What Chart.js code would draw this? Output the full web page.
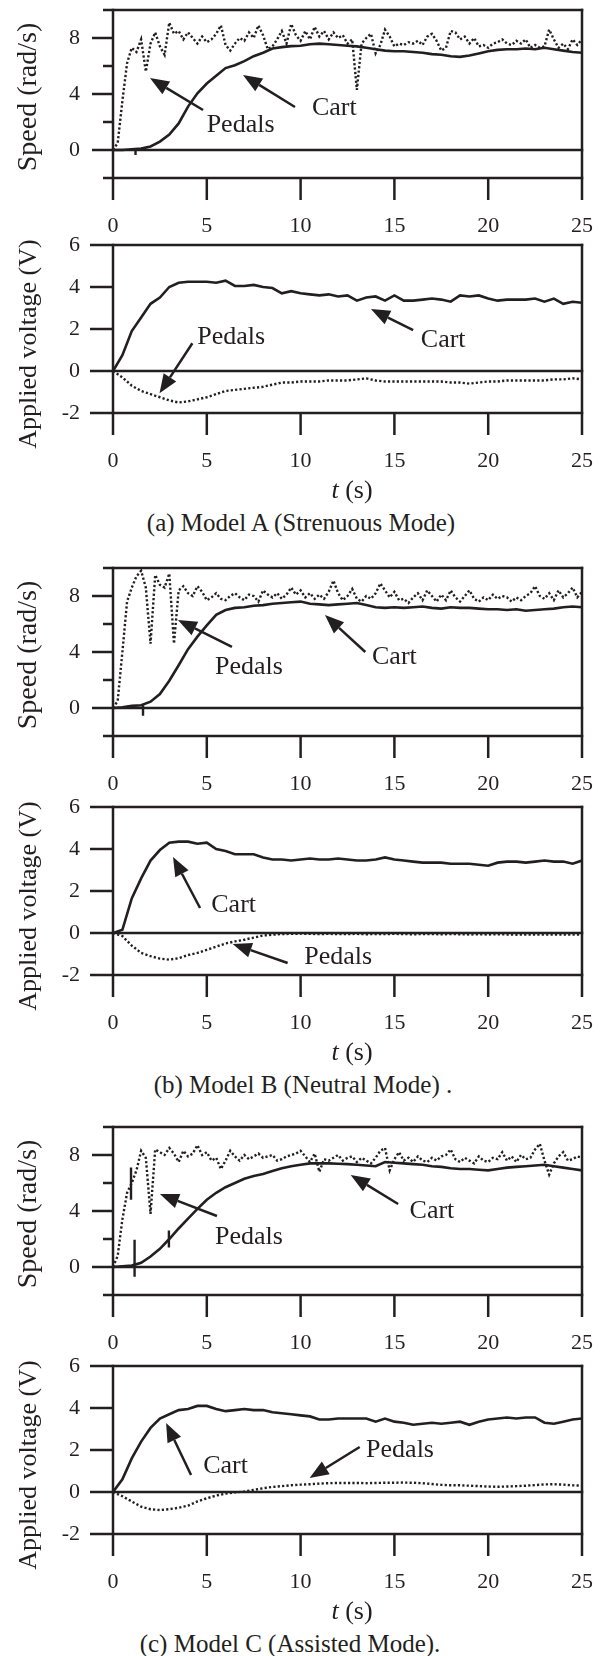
<!DOCTYPE html>
<html>
<head>
<meta charset="utf-8">
<script src="https://cdn.jsdelivr.net/npm/chart.js@4.4.1/dist/chart.umd.min.js"></script>
<style>
html,body{margin:0;padding:0;background:#fff;}
body{width:603px;height:1656px;position:relative;overflow:hidden;font-family:"Liberation Serif","Times New Roman",serif;color:#231f20;}
canvas{position:absolute;left:0;}
.lbl{position:absolute;text-align:center;white-space:nowrap;line-height:30px;}
</style>
</head>
<body>
<script>
// ---------- time bases (s) ----------
const T50 = [0,0.5,1,1.5,2,2.5,3,3.5,4,4.5,5,5.5,6,6.5,7,7.5,8,8.5,9,9.5,
  10,10.5,11,11.5,12,12.5,13,13.5,14,14.5,15,15.5,16,16.5,17,17.5,18,18.5,19,19.5,
  20,20.5,21,21.5,22,22.5,23,23.5,24,24.5,25];
const T25 = [0,0.25,0.5,0.75,1,1.25,1.5,1.75,2,2.25,2.5,2.75,3,3.25,3.5,3.75,4,4.25,4.5,4.75,
  5,5.25,5.5,5.75,6,6.25,6.5,6.75,7,7.25,7.5,7.75,8,8.25,8.5,8.75,9,9.25,9.5,9.75,
  10,10.25,10.5,10.75,11,11.25,11.5,11.75,12,12.25,12.5,12.75,13,13.25,13.5,13.75,14,14.25,14.5,14.75,
  15,15.25,15.5,15.75,16,16.25,16.5,16.75,17,17.25,17.5,17.75,18,18.25,18.5,18.75,19,19.25,19.5,19.75,
  20,20.25,20.5,20.75,21,21.25,21.5,21.75,22,22.25,22.5,22.75,23,23.25,23.5,23.75,24,24.25,24.5,24.75,25];
const X_TICKS = [0,5,10,15,20,25];
const SPEED_LABELS = [0,4,8];
const VOLT_LABELS = [6,4,2,0,-2];

// ---------- (a) Model A ----------
const cartSpeedA = [0,0,0.05,0.1,0.25,0.6,1.1,1.9,3.1,4.05,
  4.75,5.3,5.85,6.05,6.35,6.7,6.95,7.25,7.35,7.42,
  7.45,7.55,7.6,7.55,7.5,7.45,7.4,7.3,7.2,7.1,
  7.05,7.05,7.0,6.95,6.85,6.8,6.7,6.65,6.75,6.9,
  7.05,7.15,7.2,7.2,7.25,7.2,7.3,7.2,7.1,7.0,
  6.95];
const pedalSpeedA = [0,0.5,3.5,6.2,7.3,7.0,7.9,5.6,7.6,8.4,
  7.4,6.8,9.1,8.3,8.5,7.9,8.4,8.0,7.6,8.1,
  7.7,7.9,8.3,8.9,7.5,7.1,7.6,8.0,7.8,8.4,
  8.0,8.9,8.2,7.2,7.4,7.9,8.5,7.6,9.0,8.2,
  7.8,8.5,7.9,8.8,8.1,8.5,7.9,8.4,8.0,8.2,
  7.6,7.9,4.3,7.6,8.0,8.3,6.9,7.5,8.6,8.1,
  7.4,7.6,7.5,7.7,7.6,7.8,7.5,8.1,8.3,7.8,
  7.1,7.3,8.5,8.4,7.9,8.1,7.6,8.0,7.4,7.5,
  7.3,7.6,7.7,7.9,7.6,7.5,7.8,7.6,7.9,7.3,
  7.5,7.3,7.4,8.6,7.9,7.3,7.6,7.2,7.9,7.5,
  7.9];
const glitchA = [[1.2,0.1,-0.35]];
const cartVoltA = [0,0.75,1.9,2.55,3.2,3.5,4.0,4.2,4.25,4.25,
  4.25,4.2,4.3,4.05,4.05,4.1,4.0,3.95,3.7,3.8,
  3.7,3.65,3.6,3.65,3.55,3.6,3.35,3.5,3.55,3.35,
  3.6,3.35,3.35,3.4,3.45,3.4,3.3,3.6,3.55,3.6,
  3.45,3.35,3.4,3.4,3.4,3.45,3.3,3.45,3.2,3.3,
  3.25];
const pedalVoltA = [0,-0.3,-0.7,-0.95,-1.1,-1.25,-1.4,-1.5,-1.45,-1.35,
  -1.25,-1.1,-0.95,-0.9,-0.85,-0.8,-0.75,-0.65,-0.55,-0.55,
  -0.5,-0.5,-0.5,-0.45,-0.45,-0.45,-0.4,-0.35,-0.45,-0.5,
  -0.5,-0.5,-0.5,-0.5,-0.5,-0.5,-0.55,-0.55,-0.6,-0.55,
  -0.5,-0.5,-0.45,-0.45,-0.45,-0.45,-0.45,-0.4,-0.4,-0.35,
  -0.4];

// ---------- (b) Model B ----------
const cartSpeedB = [0,0.05,0.15,0.2,0.45,1.0,1.95,3.05,4.2,5.1,
  5.9,6.65,7.0,7.15,7.2,7.3,7.35,7.45,7.5,7.55,
  7.6,7.45,7.4,7.35,7.4,7.45,7.5,7.35,7.2,7.15,
  7.2,7.15,7.2,7.25,7.15,7.1,7.2,7.15,7.15,7.1,
  7.05,7.05,7.0,7.05,6.95,7.0,7.05,7.1,7.2,7.25,
  7.2];
const pedalSpeedB = [0,0.5,4.0,7.6,8.6,9.4,9.8,8.6,4.6,9.5,
  8.8,8.6,9.6,4.6,8.4,8.7,8.2,8.0,8.7,8.3,
  7.7,7.9,8.2,7.8,7.7,8.0,8.2,7.9,7.7,8.1,
  8.0,7.6,8.4,8.1,7.9,8.2,7.8,8.1,8.6,8.1,
  8.4,7.9,8.2,7.8,8.1,7.8,8.3,9.1,8.2,7.7,
  8.0,8.5,7.8,7.6,8.0,7.8,8.2,8.9,8.4,7.9,
  8.3,7.7,7.8,7.5,7.9,8.2,7.7,8.4,8.0,7.6,
  8.1,7.7,8.4,7.9,7.6,8.0,8.4,7.8,7.6,7.9,
  7.7,8.1,7.8,8.0,7.9,7.6,7.9,7.7,8.0,8.2,
  8.7,8.0,7.8,8.2,7.7,8.4,7.9,8.2,8.6,7.9,
  8.3];
const glitchB = [[1.6,0.2,-0.55]];
const cartVoltB = [0,0.15,1.65,2.6,3.45,3.95,4.3,4.35,4.35,4.25,
  4.3,4.0,3.9,3.75,3.75,3.75,3.6,3.5,3.5,3.45,
  3.5,3.55,3.5,3.5,3.55,3.5,3.45,3.45,3.5,3.6,
  3.5,3.45,3.4,3.35,3.35,3.35,3.3,3.3,3.3,3.25,
  3.2,3.35,3.4,3.4,3.35,3.4,3.45,3.4,3.4,3.3,
  3.45];
const pedalVoltB = [0,-0.15,-0.6,-0.95,-1.1,-1.22,-1.27,-1.2,-1.05,-0.95,
  -0.8,-0.65,-0.5,-0.4,-0.32,-0.22,-0.12,-0.08,-0.05,-0.04,
  -0.03,-0.04,-0.05,-0.04,-0.05,-0.05,-0.04,-0.06,-0.05,-0.05,
  -0.04,-0.05,-0.06,-0.05,-0.05,-0.06,-0.05,-0.06,-0.07,-0.06,
  -0.07,-0.06,-0.07,-0.08,-0.07,-0.07,-0.08,-0.07,-0.08,-0.07,
  -0.08];

// ---------- (c) Model C ----------
const cartSpeedC = [0,0.05,0.1,0.3,0.75,1.3,2.0,2.75,3.45,4.15,
  4.8,5.3,5.7,6.0,6.3,6.5,6.65,6.85,7.05,7.2,
  7.3,7.4,7.4,7.4,7.38,7.35,7.3,7.25,7.2,7.5,
  7.45,7.4,7.35,7.3,7.2,7.15,7.05,7.0,7.0,6.95,
  6.9,7.0,7.1,7.15,7.2,7.25,7.3,7.2,7.1,7.0,
  6.9];
const pedalSpeedC = [0,0.8,3.4,5.3,6.0,6.9,8.3,7.8,3.8,8.4,
  8.2,8.0,8.5,8.1,7.5,8.3,7.9,8.1,8.7,8.0,
  8.2,7.6,7.8,7.0,7.6,8.3,7.9,7.6,8.0,7.7,
  7.9,8.1,7.8,7.9,8.0,7.6,7.7,7.9,8.0,8.1,
  8.3,7.9,7.5,8.1,6.8,7.7,7.6,7.8,8.0,7.6,
  7.8,7.9,7.5,7.8,7.6,7.4,7.8,8.3,8.5,6.9,
  7.7,8.2,7.6,7.8,7.5,7.9,7.6,7.5,7.8,7.6,
  7.9,8.0,8.4,7.7,7.5,7.8,7.6,7.4,7.9,7.6,
  7.5,7.8,7.7,8.2,7.6,7.9,7.5,8.0,7.7,7.8,
  8.4,8.8,7.6,6.6,7.4,7.9,8.2,7.6,7.7,7.9,
  7.8];
const glitchC = [[1.15,1.95,-0.7],[2.98,2.6,1.4],[0.96,7.1,4.8]];
const cartVoltC = [0,0.6,1.6,2.4,3.05,3.5,3.7,3.9,3.95,4.1,
  4.1,3.95,3.85,3.9,3.95,3.9,3.9,3.8,3.75,3.7,
  3.65,3.6,3.45,3.45,3.5,3.5,3.5,3.5,3.35,3.5,
  3.35,3.3,3.2,3.25,3.3,3.25,3.3,3.35,3.2,3.35,
  3.45,3.5,3.55,3.5,3.55,3.55,3.3,3.25,3.35,3.45,
  3.5];
const pedalVoltC = [0,-0.2,-0.45,-0.7,-0.82,-0.86,-0.82,-0.75,-0.65,-0.45,
  -0.3,-0.17,-0.08,-0.02,0.02,0.1,0.18,0.24,0.28,0.32,
  0.35,0.37,0.4,0.42,0.43,0.43,0.43,0.42,0.43,0.44,
  0.44,0.45,0.44,0.42,0.38,0.34,0.32,0.32,0.3,0.28,
  0.26,0.25,0.26,0.28,0.3,0.33,0.36,0.37,0.35,0.32,
  0.3];

// ---------- annotations: [label, textT, textV, tailT, tailV, tipT, tipV] ----------
const notesSpeedA = [['Pedals',6.8,1.8,4.8,2.86,1.97,5.14],['Cart',11.8,3.0,9.7,3.07,6.93,5.36]];
const notesVoltA  = [['Pedals',6.3,1.62,4.23,1.32,2.48,-1.06],['Cart',17.6,1.48,16.0,1.95,13.75,2.95]];
const notesSpeedB = [['Pedals',7.25,2.93,6.34,4.36,3.46,6.29],['Cart',15.0,3.64,13.45,4.0,11.3,6.64]];
const notesVoltB  = [['Cart',6.43,1.33,4.64,1.19,3.2,3.62],['Pedals',12.0,-1.14,9.31,-1.43,6.38,-0.52]];
const notesSpeedC = [['Pedals',7.25,2.14,5.54,3.64,2.5,5.21],['Cart',17.0,4.0,15.2,4.5,12.67,6.57]];
const notesVoltC  = [['Cart',6.0,1.24,4.16,0.81,2.83,3.29],['Pedals',15.3,2.0,13.15,2.14,10.48,0.67]];

const captions = ['(a) Model A (Strenuous Mode)','(b) Model B (Neutral Mode) .','(c) Model C (Assisted Mode).'];

// ════════════════════════════════
// layout
// ════════════════════════════════
const INK = '#231f20';
const SERIF = '"Liberation Serif", "Times New Roman", serif';
const W = 603;
const L = 113, R = 582;

const pts = (ts, vs) => vs.map((v,i)=>({x:ts[i], y:v}));
// short vertical marks, separated by gaps
const segs = (list) => {
  const out = [];
  list.forEach(([t,v0,v1])=>{ out.push({x:t,y:v0},{x:t,y:v1},{x:t,y:null}); });
  return out;
};

// frame, ticks, labels and arrows drawn over the plot
const framePlugin = {
  id:'frame',
  afterDatasetsDraw(chart){
    const o = chart.options.plugins.frame;
    const {ctx, chartArea:a} = chart;
    const x = chart.scales.x, y = chart.scales.y;
    const top = y.getPixelForValue(y.max), bot = y.getPixelForValue(y.min);
    ctx.save();
    ctx.strokeStyle = INK; ctx.fillStyle = INK;
    ctx.lineWidth = 2.5; ctx.lineCap = 'butt';

    // horizontal lines and y ticks
    o.lines.forEach(([v,ext])=>{
      const py = y.getPixelForValue(v);
      ctx.beginPath(); ctx.moveTo(a.left-ext, py); ctx.lineTo(a.right+1.25, py); ctx.stroke();
    });
    o.ticks.forEach(([v,ext])=>{
      const py = y.getPixelForValue(v);
      ctx.beginPath(); ctx.moveTo(a.left-ext, py); ctx.lineTo(a.left, py); ctx.stroke();
    });
    // verticals
    [0,25].forEach(t=>{
      const px = x.getPixelForValue(t);
      ctx.beginPath(); ctx.moveTo(px, top-1.25); ctx.lineTo(px, bot+22); ctx.stroke();
    });
    X_TICKS.slice(1,-1).forEach(t=>{
      const px = x.getPixelForValue(t);
      ctx.beginPath(); ctx.moveTo(px, bot); ctx.lineTo(px, bot+22); ctx.stroke();
    });

    // tick labels
    ctx.font = '22px ' + SERIF;
    ctx.textBaseline = 'middle';
    ctx.textAlign = 'right';
    o.labels.forEach(v=>ctx.fillText(String(v), a.left-33, y.getPixelForValue(v)));
    ctx.textAlign = 'center';
    X_TICKS.forEach(t=>ctx.fillText(String(t), x.getPixelForValue(t), bot+48));

    // axis title
    ctx.save();
    ctx.translate(29, (top+bot)/2 + o.titleShift);
    ctx.rotate(-Math.PI/2);
    ctx.font = o.titleSize + 'px ' + SERIF;
    ctx.fillText(o.title, 0, 0);
    ctx.restore();

    // arrows + notes
    ctx.font = '26px ' + SERIF;
    o.notes.forEach(([txt,tt,tv,t0,v0,t1,v1])=>{
      const x0 = x.getPixelForValue(t0), y0 = y.getPixelForValue(v0);
      const x1 = x.getPixelForValue(t1), y1 = y.getPixelForValue(v1);
      const ang = Math.atan2(y1-y0, x1-x0);
      const hl = 19, hw = 7.5;
      const bx = x1 - hl*Math.cos(ang), by = y1 - hl*Math.sin(ang);
      ctx.beginPath(); ctx.moveTo(x0,y0); ctx.lineTo(bx,by); ctx.stroke();
      ctx.beginPath();
      ctx.moveTo(x1,y1);
      ctx.lineTo(bx + hw*Math.sin(ang), by - hw*Math.cos(ang));
      ctx.lineTo(bx - hw*Math.sin(ang), by + hw*Math.cos(ang));
      ctx.closePath(); ctx.fill();
      ctx.fillText(txt, x.getPixelForValue(tt), y.getPixelForValue(tv));
    });
    ctx.restore();
  }
};

const SPEED = {
  min:-2, max:10, title:'Speed (rad/s)', titleSize:28, titleShift:3,
  lines:[[10,10],[0,21],[-2,10]], ticks:[[2,10],[4,21],[6,10],[8,21]], labels:SPEED_LABELS
};
const VOLT = {
  min:-2, max:6, title:'Applied voltage (V)', titleSize:26, titleShift:15,
  lines:[[6,23],[0,23],[-2,23]], ticks:[[2,23],[4,23]], labels:VOLT_LABELS
};

// panel: kind, top px (y max), bottom px (y min), cart, pedals, marks, notes
const panels = [
  {k:SPEED, T:10,   B:178,  cart:pts(T50,cartSpeedA), ped:pts(T25,pedalSpeedA), marks:segs(glitchA), notes:notesSpeedA},
  {k:VOLT,  T:245,  B:413,  cart:pts(T50,cartVoltA),  ped:pts(T50,pedalVoltA),  marks:[], notes:notesVoltA, cap:0},
  {k:SPEED, T:568,  B:736,  cart:pts(T50,cartSpeedB), ped:pts(T25,pedalSpeedB), marks:segs(glitchB), notes:notesSpeedB},
  {k:VOLT,  T:807,  B:975,  cart:pts(T50,cartVoltB),  ped:pts(T50,pedalVoltB),  marks:[], notes:notesVoltB, cap:1},
  {k:SPEED, T:1127, B:1295, cart:pts(T50,cartSpeedC), ped:pts(T25,pedalSpeedC), marks:segs(glitchC), notes:notesSpeedC},
  {k:VOLT,  T:1366, B:1534, cart:pts(T50,cartVoltC),  ped:pts(T50,pedalVoltC),  marks:[], notes:notesVoltC, cap:2}
];
const capCenters = [301, 303, 290];

const PAD_TOP = 20, PAD_BOT = 70;

function build(){
  panels.forEach((p)=>{
    const cv = document.createElement('canvas');
    const h = p.B - p.T + PAD_TOP + PAD_BOT;
    cv.width = W; cv.height = h;
    cv.style.top = (p.T - PAD_TOP) + 'px';
    cv.style.width = W + 'px'; cv.style.height = h + 'px';
    document.body.appendChild(cv);

    new Chart(cv.getContext('2d'), {
      type:'line',
      data:{datasets:[
        {data:p.cart, borderColor:INK, borderWidth:2.6, pointRadius:0, tension:0, fill:false},
        {data:p.ped, borderColor:INK, borderWidth:2.4, borderDash:[2.2,2.2], pointRadius:0, tension:0, fill:false},
        {data:p.marks, borderColor:INK, borderWidth:2.4, pointRadius:0, spanGaps:false, fill:false}
      ]},
      options:{
        responsive:false, animation:false, events:[],
        layout:{padding:{left:L, right:W-R, top:PAD_TOP, bottom:PAD_BOT}},
        plugins:{legend:{display:false}, tooltip:{enabled:false},
          frame:{...p.k, notes:p.notes}},
        scales:{
          x:{type:'linear', min:0, max:25, display:false},
          y:{type:'linear', min:p.k.min, max:p.k.max, display:false}
        }
      },
      plugins:[framePlugin]
    });

    if(p.cap !== undefined){
      const t = document.createElement('div');
      t.className = 'lbl';
      t.style.cssText = `left:252px;width:200px;top:${p.B+77-15}px;font-size:26px;`;
      t.innerHTML = '<i>t</i> (s)';
      document.body.appendChild(t);

      const c = document.createElement('div');
      c.className = 'lbl';
      c.style.cssText = `left:${capCenters[p.cap]-250}px;width:500px;top:${p.B+110-15}px;font-size:25px;`;
      c.textContent = captions[p.cap];
      document.body.appendChild(c);
    }
  });
}

if(document.fonts && document.fonts.load){
  Promise.all([document.fonts.load('22px "Liberation Serif"'), document.fonts.load('italic 26px "Liberation Serif"')])
    .then(build, build);
}else{
  build();
}
</script>
</body>
</html>
